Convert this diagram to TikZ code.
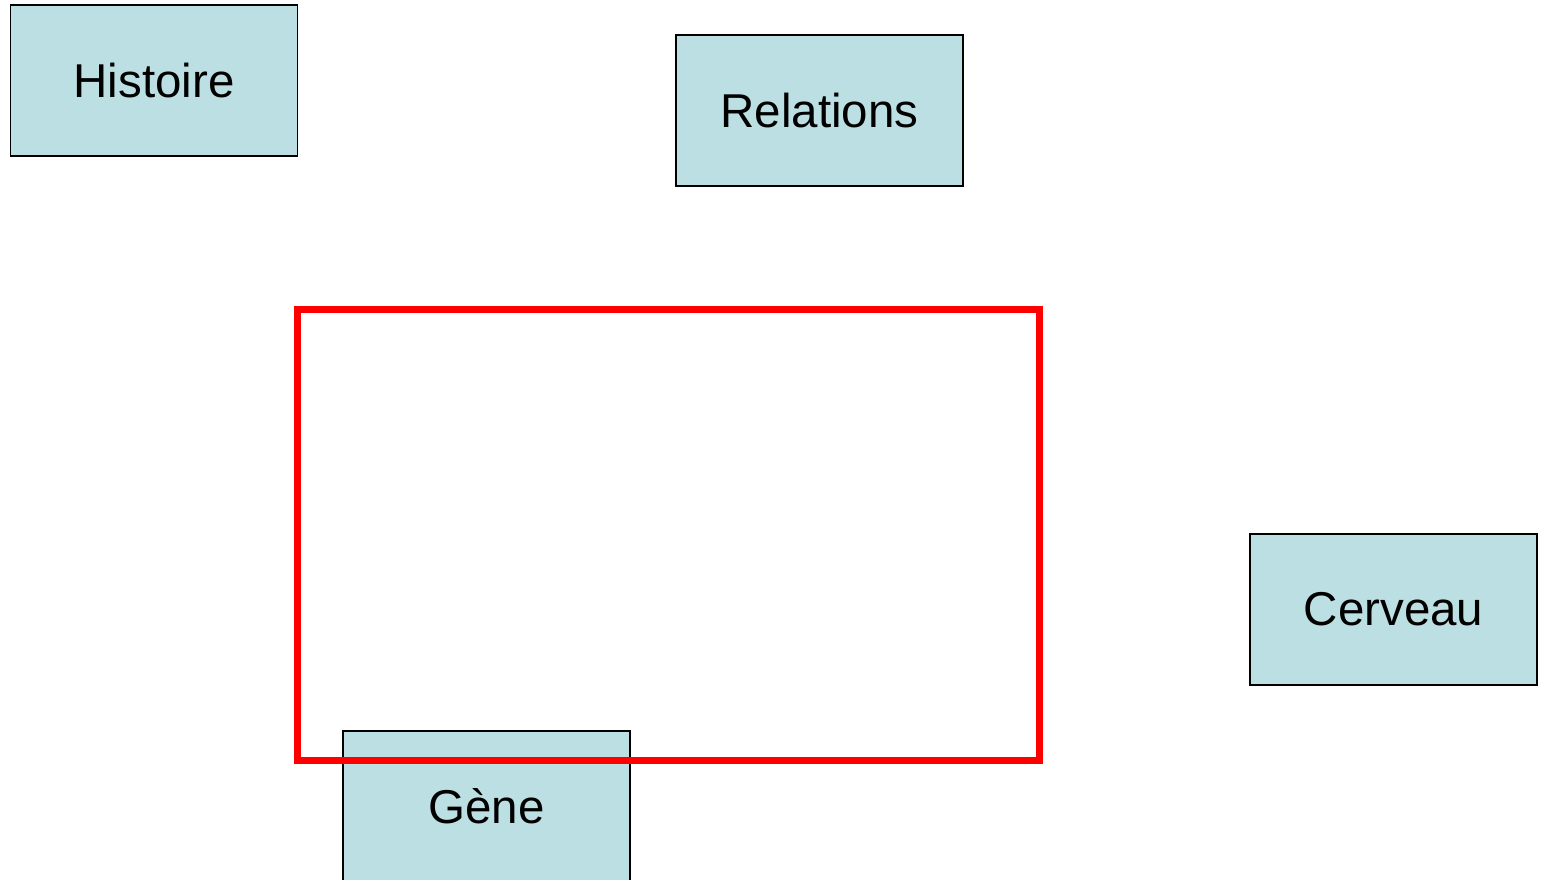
\documentclass[tikz,border=0pt]{standalone}
\usepackage{fontspec}
\setmainfont{Liberation Sans}
\definecolor{boxfill}{HTML}{BBDFE3}
\definecolor{framered}{HTML}{FF0000}
\tikzset{
  topic/.style={draw=black, line width=1.2pt, fill=boxfill, minimum width=287pt, minimum height=151pt, inner sep=0pt, font=\fontsize{47.5pt}{55pt}\selectfont},
  focus/.style={draw=framered, line width=7pt}
}
\begin{document}
\begin{tikzpicture}[x=1pt,y=-1pt]
\useasboundingbox (0,0) rectangle (1545,880);
\clip (0,0) rectangle (1545,880);
\fill[white] (0,0) rectangle (1545,880);
\node[topic] (histoire) at (154,80.5) {Histoire};
\node[topic] (relations) at (819.5,110.5) {Relations};
\node[topic] (cerveau) at (1393.5,609.5) {Cerveau};
\node[topic] (gene) at (486.5,806.5) {Gène};
\coordinate (fa) at (297.5,309.5);
\coordinate (fb) at (1039.5,760.5);
\draw[focus] (fa) rectangle (fb);
\end{tikzpicture}
\end{document}
